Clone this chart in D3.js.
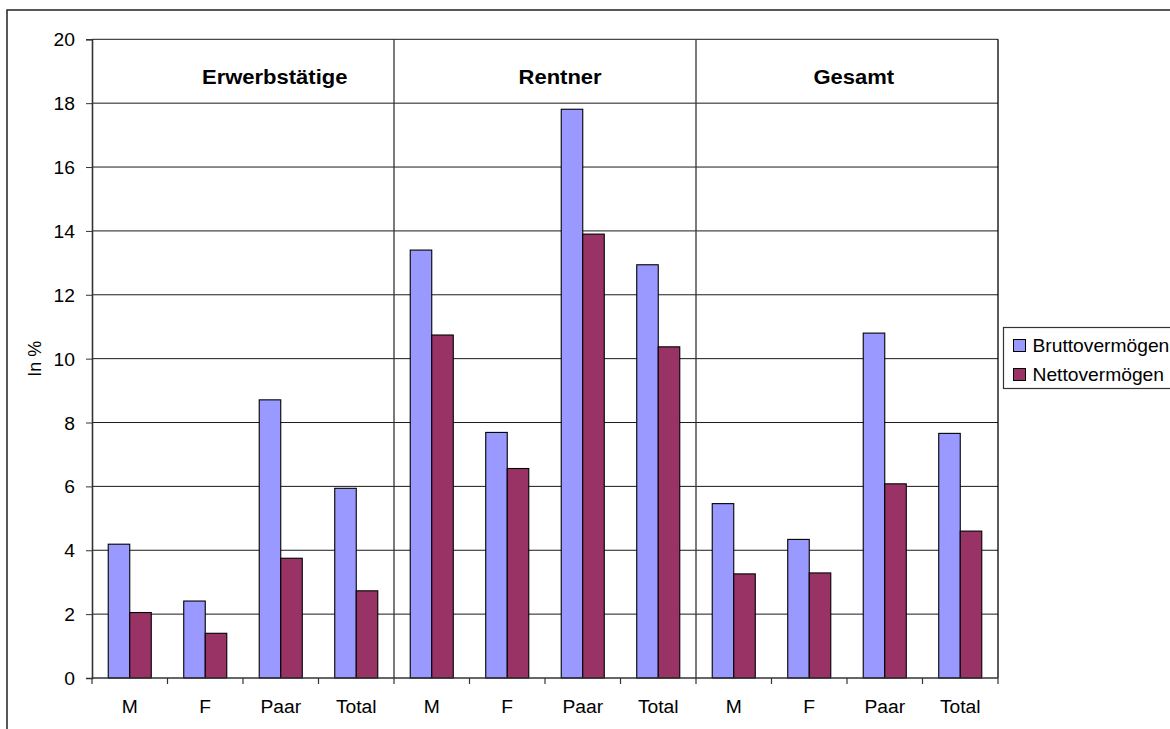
<!DOCTYPE html>
<html>
<head>
<meta charset="utf-8">
<script src="https://cdn.jsdelivr.net/npm/d3@7"></script>
<style>
  html, body { margin: 0; padding: 0; background: #fff; }
  svg { display: block; font-family: "Liberation Sans", Arial, sans-serif; }
</style>
</head>
<body>
<svg id="chart" width="1170" height="729"></svg>
<script>
// ---- data ----
const categories = ["M", "F", "Paar", "Total", "M", "F", "Paar", "Total", "M", "F", "Paar", "Total"];
const groups = ["Erwerbstätige", "Rentner", "Gesamt"];
const seriesNames = ["Bruttovermögen", "Nettovermögen"];
const brutto = [4.19, 2.41, 8.71, 5.94, 13.40, 7.69, 17.81, 12.94, 5.46, 4.34, 10.80, 7.66];
const netto  = [2.05, 1.40, 3.75, 2.73, 10.74, 6.56, 13.90, 10.37, 3.26, 3.29, 6.08, 4.60];
const yTicks = [0, 2, 4, 6, 8, 10, 12, 14, 16, 18, 20];
const yLabel = "In %";

// ---- layout ----
const svg = d3.select("#chart");
const L = 92, R = 998, T = 39.3, B = 678;
const colors = ["#9999FF", "#993366"];
const SX = 1.07; // slight horizontal stretch of text as in the reference

// outer chart frame
svg.append("rect").attr("x", 7).attr("y", 10).attr("width", 1250).attr("height", 800)
  .attr("fill", "#fff").attr("stroke", "#222").attr("stroke-width", 1.5);

const idx = d3.range(categories.length);
const x = d3.scaleBand().domain(idx).range([L, R]).paddingInner(0).paddingOuter(0);
const y = d3.scaleLinear().domain([0, 20]).range([B, T]);
const bw = x.bandwidth() * 0.285;
const off = (x.bandwidth() - 2 * bw) / 2;

// gridlines
svg.append("g").selectAll("line").data(yTicks.filter(d => d > 0)).join("line")
  .attr("x1", L).attr("x2", R).attr("y1", d => y(d)).attr("y2", d => y(d))
  .attr("stroke", "#1a1a1a").attr("stroke-width", 1);

// right border of plot
svg.append("line").attr("x1", R).attr("x2", R).attr("y1", T).attr("y2", B)
  .attr("stroke", "#000").attr("stroke-width", 1.3);

// group separators
const sepIdx = [4, 8];
svg.append("g").selectAll("line").data(sepIdx).join("line")
  .attr("x1", d => x(d)).attr("x2", d => x(d)).attr("y1", T).attr("y2", B)
  .attr("stroke", "#333").attr("stroke-width", 1.3);

// bars
const series = [brutto, netto];
series.forEach((vals, s) => {
  svg.append("g").selectAll("rect").data(vals).join("rect")
    .attr("x", (d, i) => x(i) + off + s * bw)
    .attr("y", d => y(d))
    .attr("width", bw)
    .attr("height", d => y(0) - y(d))
    .attr("fill", colors[s])
    .attr("stroke", "#000").attr("stroke-width", 1.1);
});

// y axis
const yAxis = d3.axisLeft(y).tickValues(yTicks).tickSize(6).tickPadding(9);
const gy = svg.append("g").attr("transform", `translate(${L},0)`).call(yAxis);
gy.select(".domain").attr("stroke", "#333").attr("stroke-width", 1.6);
gy.selectAll(".tick line").attr("stroke", "#333");
gy.selectAll(".tick text").attr("font-size", 18).attr("fill", "#000")
  .attr("font-family", "Liberation Sans, Arial, sans-serif").attr("dy", "0.36em")
  .attr("transform", function() { const xx = +d3.select(this).attr("x"); return `translate(${xx * (SX - 1)},0) scale(${SX},1)`; });

// x axis
const gx = svg.append("g").attr("transform", `translate(0,${B})`);
gx.append("line").attr("x1", L).attr("x2", R).attr("y1", 0).attr("y2", 0)
  .attr("stroke", "#333").attr("stroke-width", 1.6);
gx.selectAll("line.tk").data(d3.range(categories.length + 1)).join("line").attr("class", "tk")
  .attr("x1", d => L + d * x.bandwidth()).attr("x2", d => L + d * x.bandwidth())
  .attr("y1", 0).attr("y2", 6).attr("stroke", "#333").attr("stroke-width", 1.2);
gx.selectAll("text").data(categories).join("text")
  .attr("transform", (d, i) => `translate(${x(i) + x.bandwidth() / 2},35) scale(${SX},1)`)
  .attr("text-anchor", "middle").attr("font-size", 18).attr("fill", "#000").text(d => d);

// y label
svg.append("text").attr("transform", `translate(41,${(T + B) / 2}) rotate(-90)`)
  .attr("text-anchor", "middle").attr("font-size", 18).attr("fill", "#000").text(yLabel);

// group titles (anchor positions in category units)
const titlePos = [2.42, 6.2, 10.09];
svg.append("g").selectAll("text").data(groups).join("text")
  .attr("transform", (d, i) => `translate(${L + titlePos[i] * x.bandwidth()},84.3) scale(1.1,1)`)
  .attr("text-anchor", "middle").attr("font-size", 20).attr("font-weight", "bold")
  .attr("fill", "#000").text(d => d);

// legend
const lg = svg.append("g").attr("transform", "translate(1003.5,327.5)");
lg.append("rect").attr("x", 0).attr("y", 0).attr("width", 300).attr("height", 61)
  .attr("fill", "#fff").attr("stroke", "#333").attr("stroke-width", 1.2);
seriesNames.forEach((n, i) => {
  lg.append("rect").attr("x", 10).attr("y", 12 + i * 29).attr("width", 12).attr("height", 12)
    .attr("fill", colors[i]).attr("stroke", "#000").attr("stroke-width", 1);
  lg.append("text").attr("transform", `translate(29,${24.5 + i * 29}) scale(1.1,1)`)
    .attr("font-size", 17.5).attr("fill", "#000").text(n);
});
</script>
</body>
</html>
